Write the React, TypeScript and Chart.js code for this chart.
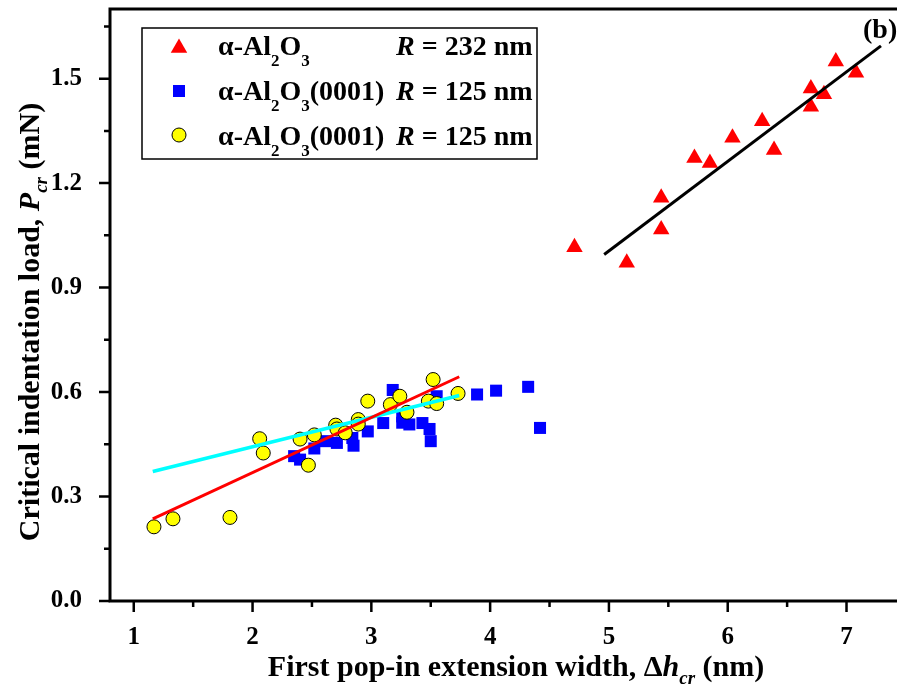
import React, { useEffect, useRef } from "react";
import { Chart, registerables } from "chart.js";

Chart.register(...registerables);

// ---- data ----
const xTickValues = [1, 2, 3, 4, 5, 6, 7];
const yTickValues = [0, 0.3, 0.6, 0.9, 1.2, 1.5];

const triX = [4.71, 5.15, 5.44, 5.44, 5.72, 5.85, 6.04, 6.29, 6.39, 6.7, 6.7, 6.81, 6.91, 7.08];
const triY = [1.016, 0.971, 1.158, 1.067, 1.272, 1.258, 1.33, 1.378, 1.295, 1.472, 1.419, 1.455, 1.549, 1.517];

const sqX = [2.35, 2.4, 2.52, 2.61, 2.71, 2.84, 2.85, 2.97, 3.1, 3.18, 3.26, 3.26, 3.32, 3.43, 3.49, 3.5, 3.55, 3.89, 4.05, 4.32, 4.42];
const sqY = [0.416, 0.406, 0.438, 0.459, 0.454, 0.468, 0.446, 0.487, 0.511, 0.606, 0.53, 0.512, 0.507, 0.511, 0.494, 0.459, 0.588, 0.593, 0.604, 0.615, 0.497];

const cirX = [1.17, 1.33, 1.81, 2.06, 2.09, 2.4, 2.47, 2.52, 2.7, 2.71, 2.78, 2.89, 2.89, 2.97, 3.16, 3.24, 3.3, 3.48, 3.52, 3.55, 3.73];
const cirY = [0.213, 0.236, 0.24, 0.466, 0.425, 0.465, 0.39, 0.477, 0.505, 0.494, 0.483, 0.521, 0.508, 0.574, 0.564, 0.588, 0.542, 0.574, 0.636, 0.567, 0.596];

const blackFitX = [4.96, 7.29];
const blackFitY = [0.995, 1.594];
const redFitX = [1.16, 3.74];
const redFitY = [0.236, 0.644];
const cyanFitX = [1.16, 3.74];
const cyanFitY = [0.372, 0.59];

const legendNames = ["α-Al", "α-Al", "α-Al"];
const legendSuffix = ["", "(0001)", "(0001)"];
const legendRadius = ["232", "125", "125"];

const xTitle = "First pop-in extension width, ";
const yTitle = "Critical indentation load, ";
const panelLabel = "(b)";

const pts = (xs: number[], ys: number[]) => xs.map((x, i) => ({ x, y: ys[i] }));

const SERIF = "'Liberation Serif', 'Times New Roman', serif";

type Seg = { t: string; size: number; italic?: boolean; dy?: number };

function segWidth(ctx: CanvasRenderingContext2D, segs: Seg[]) {
  let w = 0;
  for (const s of segs) {
    ctx.font = `${s.italic ? "italic " : ""}bold ${s.size}px ${SERIF}`;
    w += ctx.measureText(s.t).width;
  }
  return w;
}

function drawSegs(ctx: CanvasRenderingContext2D, segs: Seg[], x: number, y: number) {
  let cx = x;
  ctx.textBaseline = "alphabetic";
  ctx.textAlign = "left";
  for (const s of segs) {
    ctx.font = `${s.italic ? "italic " : ""}bold ${s.size}px ${SERIF}`;
    ctx.fillText(s.t, cx, y + (s.dy || 0));
    cx += ctx.measureText(s.t).width;
  }
  return cx;
}

function drawMarker(ctx: CanvasRenderingContext2D, kind: string, x: number, y: number) {
  ctx.save();
  ctx.beginPath();
  if (kind === "tri") {
    const r = 9.5;
    ctx.moveTo(x, y - r);
    ctx.lineTo(x + r * 0.866, y + r * 0.5);
    ctx.lineTo(x - r * 0.866, y + r * 0.5);
    ctx.closePath();
    ctx.fillStyle = "#ff0000";
    ctx.fill();
  } else if (kind === "sq") {
    const s = 6;
    ctx.rect(x - s, y - s, 2 * s, 2 * s);
    ctx.fillStyle = "#0000ff";
    ctx.fill();
  } else {
    ctx.arc(x, y, 7, 0, Math.PI * 2);
    ctx.fillStyle = "#ffff00";
    ctx.fill();
    ctx.lineWidth = 1;
    ctx.strokeStyle = "#000";
    ctx.stroke();
  }
  ctx.restore();
}

const decorPlugin = {
  id: "decor",
  afterDraw(chart: any) {
    const ctx: CanvasRenderingContext2D = chart.ctx;
    const { left, right, top, bottom } = chart.chartArea;
    const xs = chart.scales.x;
    const ys = chart.scales.y;
    ctx.save();
    ctx.strokeStyle = "#000";
    ctx.fillStyle = "#000";
    // frame
    ctx.lineWidth = 3;
    ctx.beginPath();
    ctx.moveTo(left, bottom);
    ctx.lineTo(left, top);
    ctx.lineTo(right, top);
    ctx.moveTo(left - 1.5, bottom);
    ctx.lineTo(right, bottom);
    ctx.stroke();
    // ticks
    ctx.lineWidth = 2.5;
    ctx.beginPath();
    for (let v = 1; v <= 7.5; v += 0.5) {
      const px = xs.getPixelForValue(v);
      const len = Number.isInteger(v) ? 11 : 6;
      ctx.moveTo(px, bottom);
      ctx.lineTo(px, bottom + len);
    }
    for (let k = 0; k <= 11; k++) {
      const v = k * 0.15;
      const py = ys.getPixelForValue(v);
      const len = k % 2 === 0 ? 11 : 6;
      ctx.moveTo(left, py);
      ctx.lineTo(left - len, py);
    }
    ctx.stroke();

    // x title
    const xSegs: Seg[] = [
      { t: xTitle, size: 30 },
      { t: "Δ", size: 30 },
      { t: "h", size: 30, italic: true },
      { t: "cr", size: 19, italic: true, dy: 8 },
      { t: " (nm)", size: 30 },
    ];
    const xw = segWidth(ctx, xSegs);
    drawSegs(ctx, xSegs, 516 - xw / 2, 676);

    // y title
    const ySegs: Seg[] = [
      { t: yTitle, size: 30 },
      { t: "P", size: 30, italic: true },
      { t: "cr", size: 19, italic: true, dy: 8 },
      { t: " (mN)", size: 30 },
    ];
    const yw = segWidth(ctx, ySegs);
    ctx.save();
    ctx.translate(39, 322);
    ctx.rotate(-Math.PI / 2);
    drawSegs(ctx, ySegs, -yw / 2, 0);
    ctx.restore();

    // panel label
    drawSegs(ctx, [{ t: panelLabel, size: 28 }], 863, 38);

    // legend box
    ctx.lineWidth = 1.5;
    ctx.strokeRect(142, 28, 395, 131);
    const rowsY = [55, 100, 145];
    const kinds = ["tri", "sq", "cir"];
    const markerY = [48, 91, 135];
    for (let i = 0; i < 3; i++) {
      drawMarker(ctx, kinds[i], 179, markerY[i]);
      ctx.fillStyle = "#000";
      drawSegs(
        ctx,
        [
          { t: legendNames[i], size: 28 },
          { t: "2", size: 17, dy: 11 },
          { t: "O", size: 28 },
          { t: "3", size: 17, dy: 11 },
          { t: legendSuffix[i], size: 28 },
        ],
        218,
        rowsY[i]
      );
      drawSegs(
        ctx,
        [
          { t: "R", size: 28, italic: true },
          { t: " = " + legendRadius[i] + " nm", size: 28 },
        ],
        396,
        rowsY[i]
      );
    }
    ctx.restore();
  },
};

const zeroPad = (s: any) => {
  s.paddingTop = 0;
  s.paddingBottom = 0;
  s.paddingLeft = 0;
  s.paddingRight = 0;
};

export default function App() {
  const ref = useRef<HTMLCanvasElement | null>(null);
  useEffect(() => {
    if (!ref.current) return;
    const chart = new Chart(ref.current, {
      type: "scatter",
      data: {
        datasets: [
          {
            label: "black fit",
            data: pts(blackFitX, blackFitY),
            showLine: true,
            borderColor: "#000000",
            borderWidth: 3,
            pointRadius: 0,
            order: 0,
          },
          {
            label: "red fit",
            data: pts(redFitX, redFitY),
            showLine: true,
            borderColor: "#ff0000",
            borderWidth: 3,
            pointRadius: 0,
            order: 0,
          },
          {
            label: "cyan fit",
            data: pts(cyanFitX, cyanFitY),
            showLine: true,
            borderColor: "#00ffff",
            borderWidth: 3.5,
            pointRadius: 0,
            order: 0,
          },
          {
            label: "α-Al2O3(0001) R = 125 nm (circles)",
            data: pts(cirX, cirY),
            pointStyle: "circle",
            pointRadius: 7,
            backgroundColor: "#ffff00",
            borderColor: "#000000",
            borderWidth: 1,
            order: 1,
          },
          {
            label: "α-Al2O3(0001) R = 125 nm",
            data: pts(sqX, sqY),
            pointStyle: "rect",
            pointRadius: 8.5,
            backgroundColor: "#0000ff",
            borderColor: "#0000ff",
            borderWidth: 0,
            order: 2,
          },
          {
            label: "α-Al2O3 R = 232 nm",
            data: pts(triX, triY),
            pointStyle: "triangle",
            pointRadius: 9.5,
            backgroundColor: "#ff0000",
            borderColor: "#ff0000",
            borderWidth: 0,
            order: 3,
          },
        ],
      },
      options: {
        responsive: false,
        maintainAspectRatio: false,
        animation: false,
        devicePixelRatio: 1,
        layout: { autoPadding: false, padding: { top: 9, right: 0, left: 0, bottom: 0 } },
        plugins: { legend: { display: false }, tooltip: { enabled: false } },
        scales: {
          x: {
            type: "linear",
            min: 0.8,
            max: 7.425,
            grid: { display: false },
            border: { display: false },
            afterBuildTicks: (s: any) => {
              s.ticks = xTickValues.map((v) => ({ value: v }));
            },
            afterFit: (s: any) => {
              s.height = 88;
              zeroPad(s);
            },
            ticks: {
              color: "#000",
              padding: 14,
              maxRotation: 0,
              font: { family: SERIF, weight: "bold", size: 25 },
              callback: (v: any) => String(v),
            },
          },
          y: {
            type: "linear",
            min: 0,
            max: 1.7,
            grid: { display: false },
            border: { display: false },
            afterBuildTicks: (s: any) => {
              s.ticks = yTickValues.map((v) => ({ value: v }));
            },
            afterFit: (s: any) => {
              s.width = 110;
              zeroPad(s);
            },
            ticks: {
              color: "#000",
              padding: 20,
              font: { family: SERIF, weight: "bold", size: 25 },
              callback: (v: any) => Number(v).toFixed(1),
            },
          },
        },
      },
      plugins: [decorPlugin],
    } as any);
    return () => chart.destroy();
  }, []);
  return (
    <div style={{ position: "absolute", left: 0, top: 0, width: 897, height: 689, background: "#fff" }}>
      <canvas ref={ref} width={897} height={689} style={{ display: "block" }} />
    </div>
  );
}
